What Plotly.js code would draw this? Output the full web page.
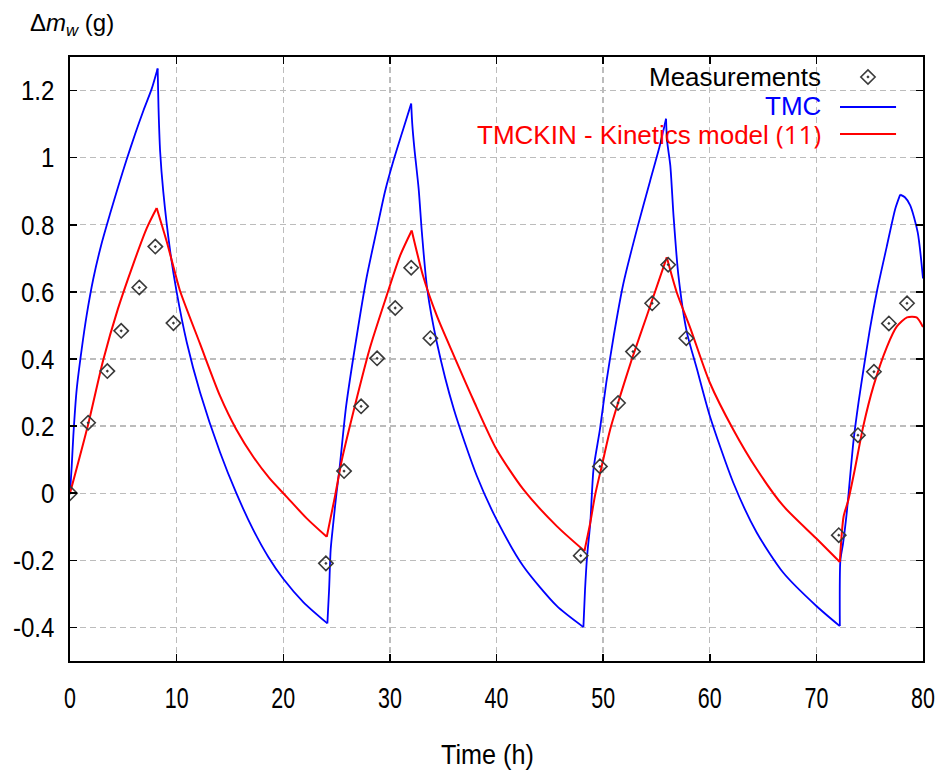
<!DOCTYPE html>
<html>
<head>
<meta charset="utf-8">
<script src="https://cdn.plot.ly/plotly-3.0.1.min.js"></script>
<style>html,body{margin:0;padding:0;background:#fff;}#chart{width:941px;height:775px;}</style>
</head>
<body>
<div id="chart"></div>
<script>
// Measurements (diamonds)
var measT = [0, 1.7, 3.5, 4.8, 6.5, 8.0, 9.7, 24.0, 25.7, 27.3, 28.8, 30.5, 32.0, 33.8, 47.9, 49.7, 51.4, 52.8, 54.6, 56.1, 57.8, 72.1, 73.9, 75.4, 76.8, 78.5];
var measV = [0, 0.21, 0.364, 0.484, 0.613, 0.735, 0.507, -0.209, 0.066, 0.259, 0.402, 0.552, 0.672, 0.462, -0.186, 0.080, 0.269, 0.422, 0.566, 0.681, 0.462, -0.125, 0.173, 0.362, 0.506, 0.566];

// TMC model (blue)
var tmcT = [0, 0.16, 0.31, 0.63, 1.1, 1.56, 2.19, 2.97, 3.75, 4.53, 5.32, 6.1, 6.88, 7.66, 8.22, 8.3, 8.45, 8.75, 9.4, 10.0, 10.95, 12.2, 14.07, 15.6, 17.2, 18.6, 20.0, 21.9, 24.14,
  24.3, 24.45, 24.7, 25.0, 25.3, 25.9, 26.9, 27.8, 28.8, 29.55, 30.3, 31.27, 32.0, 32.1, 32.3, 32.7, 33.0, 33.5, 34.4, 36.0, 38.15, 40.0, 42.5, 45.65, 48.15,
  48.3, 48.5, 48.8, 49.1, 49.7, 50.3, 51.0, 51.9, 53.2, 54.4, 55.35, 55.9, 56.0, 56.3, 56.6, 57.06, 57.85, 58.8, 60.0, 62.2, 64.4, 66.9, 70.0, 72.2,
  72.25, 72.5, 72.85, 73.2, 73.5, 73.95, 74.4, 75.0, 75.7, 76.6, 77.4, 77.86, 78.3, 78.8, 79.5, 80];
var tmcV = [0, 0.08, 0.17, 0.31, 0.43, 0.53, 0.64, 0.745, 0.832, 0.915, 0.995, 1.07, 1.14, 1.205, 1.266, 1.15, 1.02, 0.898, 0.72, 0.60, 0.45, 0.30, 0.122, 0.0, -0.11, -0.19, -0.255, -0.325, -0.388,
  -0.287, -0.167, -0.087, 0.002, 0.08, 0.26, 0.47, 0.64, 0.79, 0.90, 0.987, 1.087, 1.161, 1.10, 1.027, 0.907, 0.778, 0.609, 0.45, 0.25, 0.052, -0.078, -0.217, -0.336, -0.399,
  -0.29, -0.187, -0.087, 0.072, 0.19, 0.33, 0.47, 0.625, 0.79, 0.93, 1.04, 1.116, 1.05, 0.977, 0.828, 0.649, 0.48, 0.37, 0.231, 0.032, -0.117, -0.237, -0.336, -0.396,
  -0.2, -0.15, -0.058, 0.062, 0.161, 0.27, 0.365, 0.485, 0.605, 0.735, 0.848, 0.89, 0.882, 0.858, 0.778, 0.64];

// TMCKIN - Kinetics model (red)
var kinT = [0, 1.7, 3.1, 4.5, 5.9, 7.2, 8.13, 9.07, 9.7, 10.3, 12.2, 14.07, 15.6, 17.2, 18.7, 20.3, 22.2, 24.08,
  24.86, 25.5, 26.4, 28.1, 29.7, 30.96, 32.05, 33.1, 34.4, 36.0, 37.8, 40.0, 42.5, 45.65, 48.25,
  48.8, 49.25, 49.9, 50.66, 51.6, 52.7, 54.1, 55.97, 56.9, 58.2, 60.0, 62.2, 64.4, 66.9, 70.0, 72.2,
  72.55, 73.0, 73.6, 74.4, 75.36, 76.6, 77.55, 78.5, 79.4, 80];
var kinV = [0, 0.205, 0.395, 0.55, 0.68, 0.79, 0.85, 0.75, 0.675, 0.605, 0.445, 0.29, 0.19, 0.108, 0.045, -0.01, -0.075, -0.13,
  -0.008, 0.10, 0.22, 0.43, 0.589, 0.708, 0.783, 0.649, 0.529, 0.41, 0.28, 0.131, 0.012, -0.098, -0.172,
  -0.087, -0.005, 0.085, 0.19, 0.29, 0.40, 0.529, 0.703, 0.599, 0.49, 0.33, 0.19, 0.072, -0.038, -0.135, -0.205,
  -0.07, -0.02, 0.07, 0.20, 0.32, 0.435, 0.497, 0.524, 0.524, 0.495];

var xTicks = [0, 10, 20, 30, 40, 50, 60, 70, 80];
var yTicks = [-0.4, -0.2, 0, 0.2, 0.4, 0.6, 0.8, 1, 1.2];
var yTickText = ['-0.4', '-0.2', '0', '0.2', '0.4', '0.6', '0.8', '1', '1.2'];

var seriesNames = ['Measurements', 'TMC', 'TMCKIN - Kinetics model'];

// split a curve at its strict local extrema so each monotonic piece is smoothed
// while the switching corners stay sharp
function pieces(t, v) {
  var cuts = [0];
  for (var i = 1; i < v.length - 1; i++) {
    if ((v[i] > v[i - 1] && v[i] > v[i + 1]) || (v[i] < v[i - 1] && v[i] < v[i + 1])) cuts.push(i);
  }
  cuts.push(v.length - 1);
  var out = [];
  for (var k = 0; k < cuts.length - 1; k++) {
    out.push({x: t.slice(cuts[k], cuts[k + 1] + 1), y: v.slice(cuts[k], cuts[k + 1] + 1)});
  }
  return out;
}

var traces = [];
pieces(tmcT, tmcV).forEach(function (p) {
  traces.push({x: p.x, y: p.y, type: 'scatter', mode: 'lines', name: seriesNames[1], legendgroup: 'tmc',
    line: {color: '#0000ff', width: 1.8, shape: 'spline', smoothing: 0.7}, showlegend: false});
});
pieces(kinT, kinV).forEach(function (p) {
  traces.push({x: p.x, y: p.y, type: 'scatter', mode: 'lines', name: seriesNames[2], legendgroup: 'kin',
    line: {color: '#ff0000', width: 2, shape: 'spline', smoothing: 0.7}, showlegend: false});
});
traces.push({x: measT, y: measV, type: 'scatter', mode: 'markers', name: seriesNames[0],
  marker: {symbol: 'diamond-open-dot', size: 11, color: '#3a3a3a', line: {width: 1.6, color: '#3a3a3a'}}, showlegend: false});
// legend key for Measurements, on an overlay [0,1] axis pair
traces.push({x: [0.9355], y: [0.9669], xaxis: 'x2', yaxis: 'y2', type: 'scatter', mode: 'markers', hoverinfo: 'skip',
  marker: {symbol: 'diamond-open-dot', size: 11, color: '#3a3a3a', line: {width: 1.6, color: '#3a3a3a'}}, showlegend: false});

var sans = 'Liberation Sans, Arial, sans-serif';

var layout = {
  width: 941, height: 775,
  margin: {l: 70, r: 18, t: 57, b: 114},
  paper_bgcolor: '#ffffff', plot_bgcolor: '#ffffff',
  showlegend: false,
  xaxis: {
    range: [0, 80], tickvals: xTicks, ticktext: xTicks.map(String),
    ticks: 'inside', ticklen: 7, tickwidth: 1.5, tickcolor: '#000',
    showline: true, linewidth: 2, linecolor: '#000', mirror: 'ticks',
    showgrid: true, gridcolor: '#bcbcbc', gridwidth: 1.3, griddash: '6px,4px',
    zeroline: false, automargin: false,
    tickfont: {family: sans, size: 29, color: '#000'},
    ticklabelstandoff: 10,
    title: {text: 'Time (h)', font: {family: sans, size: 28, color: '#000'}, standoff: 32}
  },
  yaxis: {
    range: [-0.5, 1.3], tickvals: yTicks, ticktext: yTickText,
    ticks: 'inside', ticklen: 7, tickwidth: 1.5, tickcolor: '#000',
    showline: true, linewidth: 2, linecolor: '#000', mirror: 'ticks',
    showgrid: true, gridcolor: '#bcbcbc', gridwidth: 1.3, griddash: '6px,4px',
    zeroline: false, automargin: false,
    tickfont: {family: sans, size: 28, color: '#000'},
    ticklabelstandoff: 8
  },
  xaxis2: {overlaying: 'x', range: [0, 1], visible: false, fixedrange: true},
  yaxis2: {overlaying: 'y', range: [0, 1], visible: false, fixedrange: true},
  shapes: [
    {type: 'rect', xref: 'paper', yref: 'paper', x0: 0.462, x1: 0.979, y0: 0.846, y1: 0.997,
     fillcolor: '#ffffff', line: {width: 0}, layer: 'between'},
    {type: 'line', xref: 'paper', yref: 'paper', x0: 0.9027, x1: 0.9684, y0: 0.9172, y1: 0.9172,
     line: {color: '#0000ff', width: 2}, layer: 'above'},
    {type: 'line', xref: 'paper', yref: 'paper', x0: 0.9027, x1: 0.9684, y0: 0.8725, y1: 0.8725,
     line: {color: '#ff0000', width: 2}, layer: 'above'}
  ],
  annotations: [
    {xref: 'paper', yref: 'paper', x: -0.0492, y: 1.053, xanchor: 'left', yanchor: 'middle', showarrow: false,
     text: 'Δ<i>m<sub>w</sub></i> (g)', font: {family: sans, size: 24, color: '#000'}},
    {xref: 'paper', yref: 'paper', x: 0.8828, y: 0.9669, xanchor: 'right', yanchor: 'middle', showarrow: false,
     text: seriesNames[0], font: {family: sans, size: 26, color: '#000'}},
    {xref: 'paper', yref: 'paper', x: 0.8828, y: 0.9185, xanchor: 'right', yanchor: 'middle', showarrow: false,
     text: seriesNames[1], font: {family: sans, size: 26, color: '#0000ff'}},
    {xref: 'paper', yref: 'paper', x: 0.8828, y: 0.8725, xanchor: 'right', yanchor: 'middle', showarrow: false,
     text: seriesNames[2] + ' <span style="font-family:Open Sans">(11)</span>', font: {family: sans, size: 26, color: '#ff0000'}}
  ]
};

function squeeze(gd, selector, sx, dx) {
  var nodes = gd.querySelectorAll(selector);
  nodes.forEach(function (n) {
    var x = parseFloat(n.getAttribute('x')) || 0;
    var tr = n.getAttribute('transform') || '';
    n.setAttribute('transform', tr + ' translate(' + (x + (dx || 0)) + ',0) scale(' + sx + ',1) translate(' + (-x) + ',0)');
  });
}

Plotly.newPlot('chart', traces, layout, {staticPlot: true, displayModeBar: false}).then(function (gd) {
  squeeze(gd, '.xtick text', 0.74, 0);
  squeeze(gd, '.ytick text', 0.86, 0);
  squeeze(gd, '.g-xtitle text', 0.9, -9);
});
</script>
</body>
</html>
